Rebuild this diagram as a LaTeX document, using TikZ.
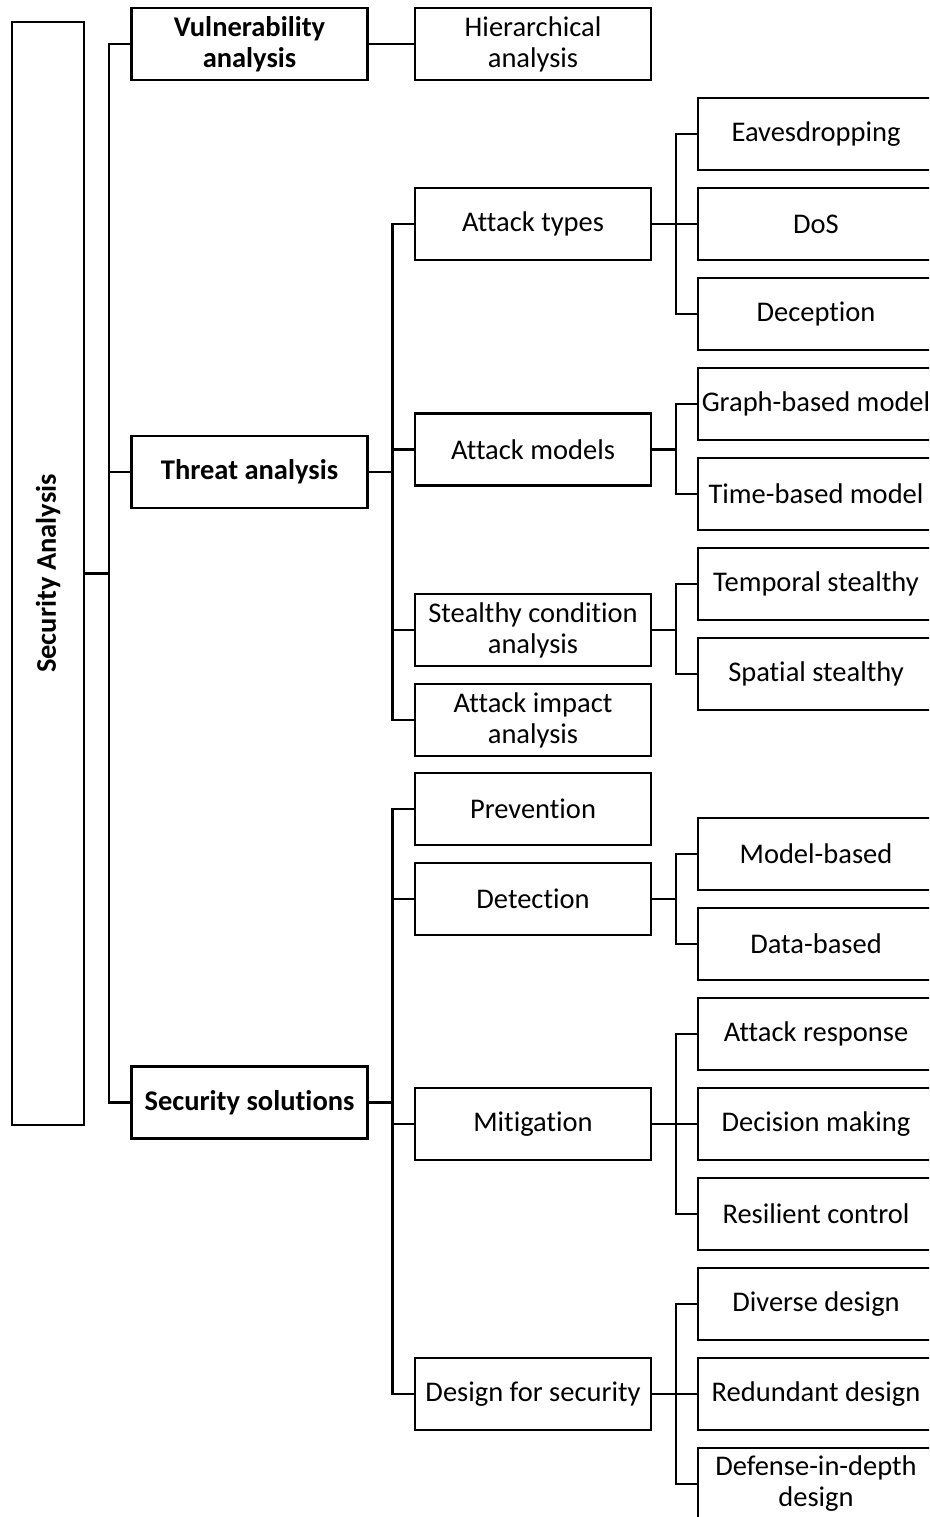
\documentclass[tikz,border=0pt]{standalone}
\usepackage{fontspec}
\setmainfont{Carlito}[Ligatures=NoCommon]
\begin{document}
\begin{tikzpicture}[x=1pt,y=-1pt,
  every node/.style={font=\fontsize{28.5}{31}\selectfont},
  boldtext/.style={font=\fontsize{28.5}{31}\selectfont\bfseries},
  box/.style={draw,line width=2.5pt,rectangle,minimum width=236pt,minimum height=72pt,inner sep=0pt,align=center},
  link/.style={line width=2.5pt}]
\useasboundingbox (0,0) rectangle (929,1517);
\begin{scope}
\clip (0,0) rectangle (929,1517);
% root
\node[draw,line width=2.5pt,minimum width=72pt,minimum height=1103pt,inner sep=0pt] (root) at (48,573.5) {};
\node[rotate=90,boldtext] (roottext) at (48,573.5) {Security Analysis};
% first level
\node[box,boldtext] (vul) at (249.5,44) {Vulnerability\\analysis};
\node[box,boldtext] (thr) at (249.5,472) {Threat analysis};
\node[box,boldtext] (sol) at (249.5,1102.5) {Security solutions};
% second level
\node[box] (hier) at (533,44) {Hierarchical\\analysis};
\node[box] (atype) at (533,224) {Attack types};
\node[box] (amod) at (533,449.5) {Attack models};
\node[box] (stealth) at (533,630) {Stealthy condition\\analysis};
\node[box] (impact) at (533,720) {Attack impact\\analysis};
\node[box] (prev) at (533,809) {Prevention};
\node[box] (det) at (533,899) {Detection};
\node[box] (mit) at (533,1124) {Mitigation};
\node[box] (dfs) at (533,1394) {Design for security};
% third level
\node[box] (eav) at (816,134) {Eavesdropping};
\node[box] (dos) at (816,224) {DoS};
\node[box] (dec) at (816,314) {Deception};
\node[box] (graph) at (816,404) {Graph-based model};
\node[box] (time) at (816,494) {Time-based model};
\node[box] (temp) at (816,584) {Temporal stealthy};
\node[box] (spat) at (816,674) {Spatial stealthy};
\node[box] (mb) at (816,854) {Model-based};
\node[box] (db) at (816,944) {Data-based};
\node[box] (resp) at (816,1034) {Attack response};
\node[box] (decm) at (816,1124) {Decision making};
\node[box] (resil) at (816,1214) {Resilient control};
\node[box] (div) at (816,1304) {Diverse design};
\node[box] (red) at (816,1394) {Redundant design};
\node[box] (did) at (816,1484) {Defense-in-depth\\design};
% connectors
\foreach \p/\c in {root/vul,root/thr,root/sol,
    vul/hier,
    thr/atype,thr/amod,thr/stealth,thr/impact,
    sol/prev,sol/det,sol/mit,sol/dfs,
    atype/eav,atype/dos,atype/dec,
    amod/graph,amod/time,
    stealth/temp,stealth/spat,
    det/mb,det/db,
    mit/resp,mit/decm,mit/resil,
    dfs/div,dfs/red,dfs/did}
  \draw[link] (\p.east) -- ++(23.5,0) |- (\c.west);
\end{scope}
\end{tikzpicture}
\end{document}
